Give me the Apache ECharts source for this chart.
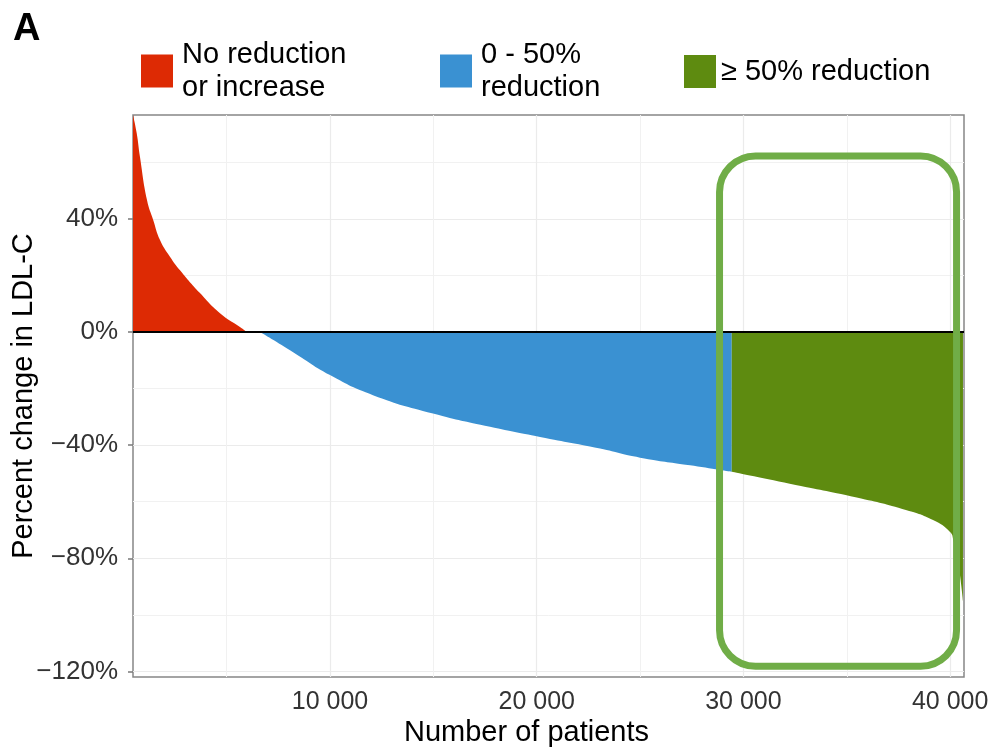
<!DOCTYPE html>
<html>
<head>
<meta charset="utf-8">
<script src="https://cdn.jsdelivr.net/npm/echarts@6/dist/echarts.min.js"></script>
<style>
html,body{margin:0;padding:0;background:#fff;}
#main{width:991px;height:747px;}
</style>
</head>
<body>
<div id="main"></div>
<script>
// ---- data ----
const seriesNames = ['No reduction\nor increase', '0 - 50%\nreduction', '\u2265 50% reduction'];
const redX   = [470, 648, 808, 1147, 1451, 1776, 2258, 2744, 3710, 4678, 5645, 5984];
const redY   = [76.8, 70.4, 61.9, 46.7, 39.6, 32.6, 26.7, 21.9, 13.8, 6.7, 1.8, 0];
const blueX  = [6614, 8065, 10000, 12080, 14983, 17741, 20160, 23062, 24998, 27417, 29434];
const blueY  = [0, -6.4, -15.2, -22.3, -28.8, -33.5, -37.1, -41.2, -44.4, -47.1, -49.4];
const greenX = [29434, 32240, 35481, 37900, 39172, 39995, 40155, 40400, 40620];
const greenY = [-49.4, -53.6, -58.5, -63, -66.5, -70.7, -73.6, -82, -95];
const xMajorTicks = [10000, 20000, 30000, 40000];
const xMinorTicks = [5000, 15000, 25000, 35000];
const yMajorTicks = [-120, -80, -40, 0, 40];
const yMinorTicks = [-100, -60, -20, 20, 60];
const highlightBox = { x0: 28844, x1: 40310, y0: 62.3, y1: -118.2 };

const FONT = 'Liberation Sans, Arial, Helvetica, sans-serif';
const colors = ['#dd2a04', '#3a91d2', '#5e8b10'];
const zip = (xs, ys) => xs.map((x, i) => [x, ys[i]]);

const xRange = [470, 40670];
const yRange = [-122, 76.8];

const chart = echarts.init(document.getElementById('main'), null, { renderer: 'canvas' });

function areaSeries(name, xs, ys, color, extra) {
  return Object.assign({
    name: name,
    type: 'line',
    xAxisIndex: 0, yAxisIndex: 0,
    data: zip(xs, ys),
    showSymbol: false,
    smooth: 0.5,
    lineStyle: { width: 0, opacity: 0 },
    areaStyle: { color: color, opacity: 1, origin: 'auto' },
    itemStyle: { color: color },
    silent: true,
    animation: false
  }, extra || {});
}

const legendBase = {
  icon: 'rect', itemWidth: 32, itemHeight: 33, padding: 0,
  selectedMode: false,
  textStyle: { fontFamily: FONT, fontSize: 29, color: '#000', lineHeight: 33, padding: [0, 0, 0, 4] },
  itemStyle: { borderWidth: 0 }
};

const option = {
  backgroundColor: '#fff',
  animation: false,
  title: {
    text: 'A', left: 13, top: 11, padding: 0,
    textStyle: { fontFamily: FONT, fontSize: 38, fontWeight: 'bold', color: '#000' }
  },
  legend: [
    Object.assign({}, legendBase, { data: [seriesNames[0]], left: 141, top: 38 }),
    Object.assign({}, legendBase, { data: [seriesNames[1]], left: 440, top: 38 }),
    Object.assign({}, legendBase, { data: [seriesNames[2]], left: 684, top: 55,
      textStyle: Object.assign({}, legendBase.textStyle, { padding: 0 }) })
  ],
  grid: {
    left: 133, right: 27, top: 115, bottom: 70,
    outerBoundsMode: 'none', containLabel: false,
    show: true, borderColor: '#868686', borderWidth: 1.5, backgroundColor: '#fff'
  },
  xAxis: [
    {
      type: 'value', min: xRange[0], max: xRange[1],
      name: 'Number of patients', nameLocation: 'middle', nameGap: 41, nameMoveOverlap: false,
      nameTextStyle: { fontFamily: FONT, fontSize: 29, color: '#000', padding: [0, 44, 0, 0] },
      axisLine: { show: false },
      axisTick: { show: true, inside: false, length: 5, customValues: xMajorTicks,
                  lineStyle: { color: '#7a7a7a', width: 1.5 } },
      axisLabel: { customValues: xMajorTicks, margin: 13, fontFamily: FONT, fontSize: 25, color: '#333',
                   formatter: v => String(v).replace(/\B(?=(\d{3})+(?!\d))/g, ' ') },
      splitLine: { show: true, lineStyle: { color: '#ebebeb', width: 1.2 } }
    },
    {
      type: 'value', min: xRange[0], max: xRange[1], position: 'top',
      axisLine: { show: false },
      axisTick: { show: false, customValues: xMinorTicks },
      axisLabel: { show: false, customValues: xMinorTicks },
      splitLine: { show: true, lineStyle: { color: '#f1f1f1', width: 1 } }
    }
  ],
  yAxis: [
    {
      type: 'value', min: yRange[0], max: yRange[1],
      name: 'Percent change in LDL-C', nameLocation: 'middle', nameGap: 95, nameMoveOverlap: false,
      nameTextStyle: { fontFamily: FONT, fontSize: 29, color: '#000' },
      axisLine: { show: false },
      axisTick: { show: true, inside: false, length: 5, customValues: yMajorTicks,
                  lineStyle: { color: '#7a7a7a', width: 1.5 } },
      axisLabel: { customValues: yMajorTicks, margin: 15, fontFamily: FONT, fontSize: 26, color: '#333',
                   formatter: v => (v < 0 ? '\u2212' + Math.abs(v) : String(v)) + '%' },
      splitLine: { show: true, lineStyle: { color: '#ebebeb', width: 1.2 } }
    },
    {
      type: 'value', min: yRange[0], max: yRange[1], position: 'right',
      axisLine: { show: false },
      axisTick: { show: false, customValues: yMinorTicks },
      axisLabel: { show: false, customValues: yMinorTicks },
      splitLine: { show: true, lineStyle: { color: '#f1f1f1', width: 1 } }
    }
  ],
  series: [
    areaSeries(seriesNames[0], redX, redY, colors[0], {
      markLine: {
        silent: true, symbol: 'none', animation: false,
        label: { show: false },
        lineStyle: { color: '#000', width: 2, type: 'solid' },
        data: [{ yAxis: 0 }],
        z: 10
      }
    }),
    areaSeries(seriesNames[1], blueX, blueY, colors[1]),
    areaSeries(seriesNames[2], greenX, greenY, colors[2])
  ]
};

chart.setOption(option);

function drawBox() {
  const p0 = chart.convertToPixel({ gridIndex: 0 }, [highlightBox.x0, highlightBox.y0]);
  const p1 = chart.convertToPixel({ gridIndex: 0 }, [highlightBox.x1, highlightBox.y1]);
  chart.setOption({
    graphic: [{
      type: 'rect', z: 100, silent: true,
      shape: { x: p0[0], y: p0[1], width: p1[0] - p0[0], height: p1[1] - p0[1], r: 36 },
      style: { fill: 'none', stroke: '#70ad47', lineWidth: 7 }
    }]
  });
}
drawBox();
</script>
</body>
</html>
